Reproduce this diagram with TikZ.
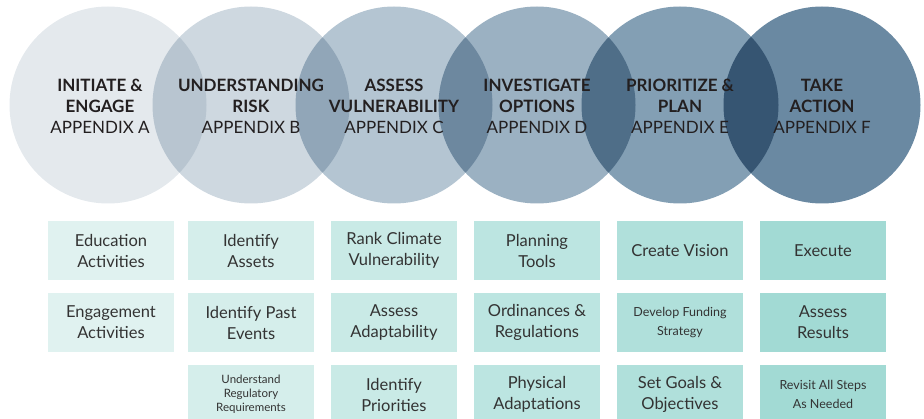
\documentclass[tikz,border=0pt]{standalone}
\usepackage{fontspec}
\usepackage{tikz}
\setmainfont{Lato}
\usetikzlibrary{positioning}
\definecolor{stageA}{HTML}{E4E9ED}
\definecolor{stageB}{HTML}{CED8E0}
\definecolor{stageC}{HTML}{B4C5D2}
\definecolor{stageD}{HTML}{9BB1C2}
\definecolor{stageE}{HTML}{839FB4}
\definecolor{stageF}{HTML}{6A89A2}
\definecolor{taskA}{HTML}{E0F2F0}
\definecolor{taskB}{HTML}{D5EEEB}
\definecolor{taskC}{HTML}{C9EAE6}
\definecolor{taskD}{HTML}{BCE5E1}
\definecolor{taskE}{HTML}{B0E0DB}
\definecolor{taskF}{HTML}{A2DAD4}
\definecolor{titletext}{HTML}{231F20}
\definecolor{tasktext}{HTML}{333333}

\begin{document}
\begin{tikzpicture}[
    x=1pt, y=-1pt,
    stage/.style={circle, minimum size=197pt, inner sep=0pt},
    title/.style={align=center, inner sep=0pt, text=titletext, font=\fontsize{17}{21}\selectfont},
    task/.style={minimum width=126pt, minimum height=59pt, inner sep=0pt, align=center, text=tasktext, font=\fontsize{16.5}{21}\selectfont},
    small/.style={font=\fontsize{11.5}{14}\selectfont},
    medium/.style={font=\fontsize{12.5}{19}\selectfont}
]
\useasboundingbox (0,0) rectangle (924,419);

% Stage circles
\begin{scope}[blend group=multiply]
\node[stage, fill=stageA] (initiate) at (108, 105) {};
\node[stage, fill=stageB] (risk) at (251, 105) {};
\node[stage, fill=stageC] (vulnerability) at (394, 105) {};
\node[stage, fill=stageD] (options) at (537, 105) {};
\node[stage, fill=stageE] (plan) at (680, 105) {};
\node[stage, fill=stageF] (action) at (822, 105) {};
\end{scope}

% Stage titles
\node[title] (initiatetitle) at (100, 106) {\textbf{INITIATE \&}\\\textbf{ENGAGE}\\APPENDIX A};
\node[title] (risktitle) at (251, 106) {\textbf{UNDERSTANDING}\\\textbf{RISK}\\APPENDIX B};
\node[title] (vulnerabilitytitle) at (394, 106) {\textbf{ASSESS}\\\textbf{VULNERABILITY}\\APPENDIX C};
\node[title] (optionstitle) at (537, 106) {\textbf{INVESTIGATE}\\\textbf{OPTIONS}\\APPENDIX D};
\node[title] (plantitle) at (680, 106) {\textbf{PRIORITIZE \&}\\\textbf{PLAN}\\APPENDIX E};
\node[title] (actiontitle) at (822, 106) {\textbf{TAKE}\\\textbf{ACTION}\\APPENDIX F};

% Tasks, first row
\node[task, fill=taskA] (education) at (111, 250.5) {Education\\Activities};
\node[task, fill=taskB] (assets) at (251, 250.5) {Identify\\Assets};
\node[task, fill=taskC] (rank) at (394, 250.5) {Rank Climate\\Vulnerability};
\node[task, fill=taskD] (tools) at (537, 250.5) {Planning\\Tools};
\node[task, fill=taskE] (vision) at (680, 250.5) {Create Vision};
\node[task, fill=taskF] (execute) at (823, 250.5) {Execute};

% Tasks, second row
\node[task, fill=taskA] (engagement) at (111, 322.5) {Engagement\\Activities};
\node[task, fill=taskB] (events) at (251, 322.5) {Identify Past\\Events};
\node[task, fill=taskC] (adaptability) at (394, 322.5) {Assess\\Adaptability};
\node[task, fill=taskD] (ordinances) at (537, 322.5) {Ordinances \&\\Regulations};
\node[task, fill=taskE, medium] (funding) at (680, 322.5) {Develop Funding\\Strategy};
\node[task, fill=taskF] (results) at (823, 322.5) {Assess\\Results};

% Tasks, third row
\node[task, fill=taskB, small] (regulatory) at (251, 394.5) {Understand\\Regulatory\\Requirements};
\node[task, fill=taskC] (priorities) at (394, 394.5) {Identify\\Priorities};
\node[task, fill=taskD] (physical) at (537, 394.5) {Physical\\Adaptations};
\node[task, fill=taskE] (goals) at (680, 394.5) {Set Goals \&\\Objectives};
\node[task, fill=taskF, medium] (revisit) at (823, 394.5) {Revisit All Steps\\As Needed};

\end{tikzpicture}
\end{document}
